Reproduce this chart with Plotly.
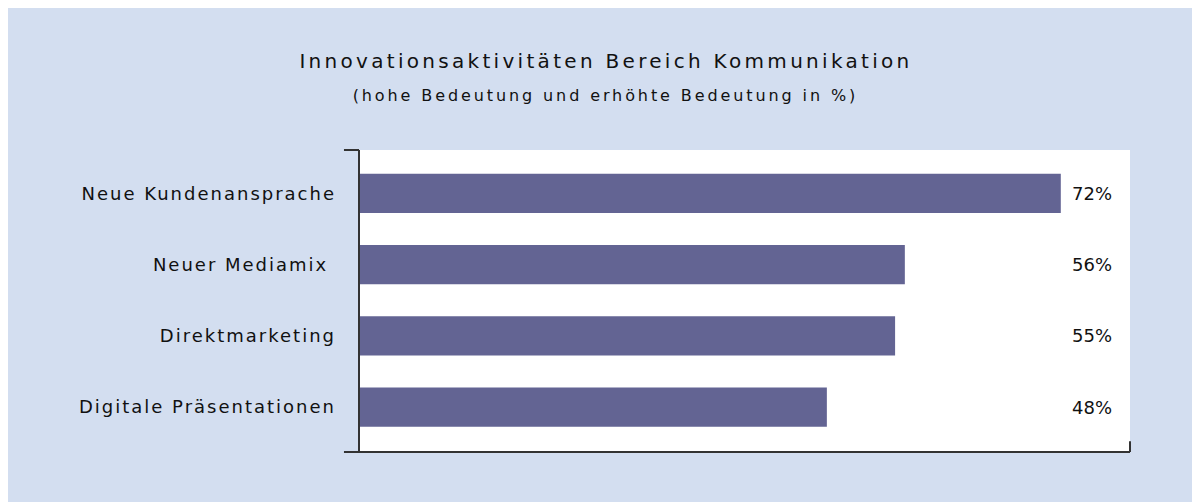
import plotly.graph_objects as go

categories = ["Neue Kundenansprache", "Neuer Mediamix ", "Direktmarketing", "Digitale Präsentationen"]
values = [72, 56, 55, 48]
value_labels = ["72%", "56%", "55%", "48%"]

title = "Innovationsaktivitäten Bereich Kommunikation"
subtitle = "(hohe Bedeutung und erhöhte Bedeutung in %)"

BG = "#D3DEF0"
BAR = "#636493"
INK = "#111111"
FONT = "DejaVu Sans"

fig = go.Figure()
fig.add_trace(go.Bar(
    y=categories, x=values, orientation="h",
    marker=dict(color=BAR, line=dict(width=0)),
    width=0.55, hoverinfo="skip",
))

for cat, lab in zip(categories, value_labels):
    fig.add_annotation(x=0.951, xref="paper", y=cat, yref="y", text=lab,
                       showarrow=False, xanchor="center", yanchor="middle",
                       font=dict(family=FONT, size=18, color=INK))

fig.add_annotation(x=0.32, xref="paper", y=1.295, yref="paper", text=title,
                   showarrow=False, xanchor="center", yanchor="middle",
                   font=dict(family=FONT, size=20, color=INK))
fig.add_annotation(x=0.32, xref="paper", y=1.18, yref="paper", text=subtitle,
                   showarrow=False, xanchor="center", yanchor="middle",
                   font=dict(family=FONT, size=16, color=INK))

line = dict(color="#333333", width=2)
shapes = [
    dict(type="line", xref="paper", yref="paper", x0=0, x1=0, y0=0, y1=1, line=line),
    dict(type="line", xref="paper", yref="paper", x0=-0.0195, x1=0, y0=1, y1=1, line=line),
    dict(type="line", xref="paper", yref="paper", x0=-0.0195, x1=1, y0=0, y1=0, line=line),
    dict(type="line", xref="paper", yref="paper", x0=1, x1=1, y0=0, y1=0.036, line=line),
]

fig.update_layout(
    width=1200, height=502,
    margin=dict(l=351, r=78, t=142, b=58),
    paper_bgcolor=BG, plot_bgcolor="white",
    showlegend=False,
    shapes=shapes,
    xaxis=dict(range=[0, 79.1], showgrid=False, zeroline=False, showticklabels=False,
               showline=False, ticks="", fixedrange=True),
    yaxis=dict(categoryorder="array", categoryarray=categories, range=[3.63, -0.61],
               showgrid=False, zeroline=False, showline=False, ticks="",
               ticklabelstandoff=22,
               tickfont=dict(family=FONT, size=18, color=INK), fixedrange=True),
)

css = (
    'text[style*="font-size: 20px"]{letter-spacing:3.3px}'
    'text[style*="font-size: 16px"]{letter-spacing:2.9px}'
    '.ytick text{letter-spacing:2px}'
)
post = ("var s=document.createElement('style');s.textContent='" + css +
        "';document.head.appendChild(s);")

fig.write_html("out.html", post_script=post)
